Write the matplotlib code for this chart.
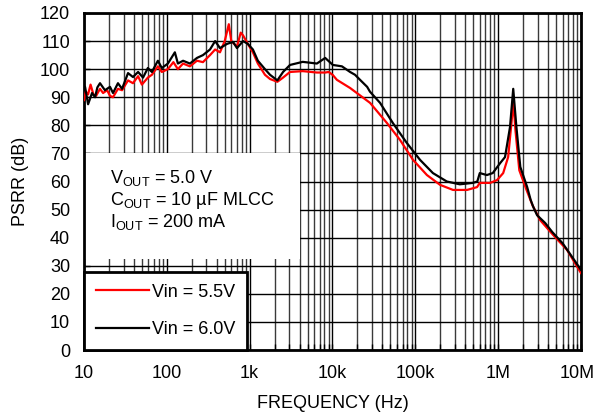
import matplotlib
matplotlib.use('Agg')
import matplotlib.pyplot as plt
from matplotlib.patches import Rectangle
from matplotlib.ticker import FixedLocator, LogLocator, NullFormatter
from matplotlib.transforms import ScaledTranslation

# PSRR vs frequency

freq_60 = [10, 10.3, 11.2, 12.5, 13.6, 14.5, 15.6, 17.9, 20.6, 22.4, 25.7, 28.8,
           34, 39, 45, 51.6, 59, 66, 78, 87, 103, 125, 136, 157, 190, 231, 273,
           332, 383, 438, 533, 630, 703, 833, 950, 1094, 1256, 1530, 1760, 2160,
           2530, 3070, 4370, 6480, 8160, 10100, 13000, 16300, 18700, 21500,
           26200, 28300, 37500, 53600, 79000, 114000, 163000, 240000, 344000,
           494000, 560000, 600000, 730000, 860000, 1.06e6, 1.21e6, 1.39e6,
           1.52e6, 1.66e6, 1.85e6, 2.24e6, 2.47e6, 2.65e6, 2.95e6, 3.7e6,
           4.5e6, 6.0e6, 8.0e6, 10e6]
psrr_60 = [94, 93.7, 87.5, 91.5, 90, 93.5, 95, 92.5, 93.7, 91.5, 95, 93,
           98.6, 97.2, 99, 97, 100.4, 99, 103, 100.4, 102, 106, 102, 103, 102,
           104, 105, 107, 110, 107.5, 109, 109.7, 107.5, 110, 109, 107, 103,
           100, 98, 96, 99, 101.5, 102.6, 102, 104, 101.5, 101, 99, 98, 96.2,
           93.7, 92, 88, 80.8, 73.7, 67.7, 63, 60, 59, 59.5, 60, 63, 62.3, 63,
           66.6, 68.7, 79.4, 93, 79.4, 65.2, 58, 53.4, 51, 48, 45.2, 42, 38,
           32.7, 28.5]

freq_55 = [10, 10.5, 11.2, 12, 13, 14, 15.6, 17, 19, 20.6, 22.4, 25.7, 28.8,
           34, 39, 45, 50, 59, 66, 78, 87, 103, 120, 136, 157, 190, 231, 273,
           332, 383, 438, 500, 560, 600, 650, 703, 780, 833, 950, 1094, 1256,
           1530, 1760, 2160, 2530, 3070, 4370, 6480, 8160, 9000, 10100, 11300,
           16300, 28400, 45500, 65300, 93800, 138000, 199000, 285000, 421000,
           556000, 600000, 798000, 969000, 1.15e6, 1.32e6, 1.47e6, 1.52e6,
           1.62e6, 1.8e6, 2.2e6, 2.6e6, 3.2e6, 4.6e6, 6.8e6, 10e6]
psrr_55 = [89, 92, 91, 94.5, 91, 90.5, 93, 91.5, 92.5, 90.5, 90, 93, 92.5,
           96, 95, 97.5, 94.5, 97, 98, 101, 99, 100, 102.5, 100, 102, 101, 103,
           102.5, 105, 107, 106, 110, 116, 110, 109, 108, 113, 112, 109, 106,
           102, 98, 96.5, 95.5, 97, 99, 99.3, 98.8, 98.8, 99, 97.9, 96.2, 93.3,
           88, 80.8, 74.8, 67.7, 62.3, 58.8, 57, 57, 58, 59.5, 59.5, 60.5, 63,
           68.7, 83, 89, 78, 64, 57, 51.5, 46.3, 41, 35.6, 27.4]

xtick_vals = [10, 100, 1e3, 1e4, 1e5, 1e6, 1e7]
xtick_labels = ['10', '100', '1k', '10k', '100k', '1M', '10M']
ytick_vals = list(range(0, 121, 10))

plt.rcParams['font.family'] = ['Liberation Sans', 'DejaVu Sans']
plt.rcParams['mathtext.fontset'] = 'custom'
plt.rcParams['mathtext.rm'] = 'Liberation Sans'
plt.rcParams['font.size'] = 13

fig = plt.figure(figsize=(5.97, 4.15), dpi=100)
ax = fig.add_axes([0.1407, 0.1566, 0.8325, 0.8121])

ax.set_xscale('log')
ax.set_xlim(10, 1e7)
ax.set_ylim(0, 120)

ax.plot(freq_55, psrr_55, color='#ff0000', lw=1.6, label='Vin = 5.5V', zorder=3)
ax.plot(freq_60, psrr_60, color='black', lw=1.6, label='Vin = 6.0V', zorder=4)

ax.xaxis.set_major_locator(FixedLocator(xtick_vals))
ax.set_xticklabels(xtick_labels)
ax.xaxis.set_minor_locator(LogLocator(base=10, subs=range(2, 10), numticks=20))
ax.xaxis.set_minor_formatter(NullFormatter())
ax.set_yticks(ytick_vals)

ax.grid(which='major', color='black', lw=1.0)
ax.grid(which='minor', axis='x', color='#3a3a3a', lw=1.0)
ax.set_axisbelow(True)
ax.tick_params(which='both', direction='in', length=4, width=1)
ax.tick_params(axis='x', pad=11)
ax.tick_params(axis='y', pad=10)
for s in ax.spines.values():
    s.set_linewidth(2.0)

# keep the last tick label inside the figure
last = ax.get_xticklabels()[-1]
last.set_transform(last.get_transform() + ScaledTranslation(-3 / 72, 0, fig.dpi_scale_trans))

# white panel behind the conditions text
ax.add_patch(Rectangle((10, 32.5), 4090, 37.5, facecolor='white',
                       edgecolor='none', zorder=2))
ax.text(20.6, 61.2, r'V$_{\mathrm{OUT}}$ = 5.0 V', va='center', zorder=5)
ax.text(20.6, 53.4, r'C$_{\mathrm{OUT}}$ = 10 µF MLCC', va='center', zorder=5)
ax.text(20.6, 45.6, r'I$_{\mathrm{OUT}}$ = 200 mA', va='center', zorder=5)

leg = ax.legend(loc='lower left', bbox_to_anchor=(0, 0), borderaxespad=0,
                fancybox=False, framealpha=1, edgecolor='black',
                handlelength=2.95, handletextpad=0.15, labelspacing=1.15,
                borderpad=0.65)
leg.get_frame().set_linewidth(2.0)
leg.set_zorder(6)

ax.set_xlabel('FREQUENCY (Hz)', labelpad=9)
ax.set_ylabel('PSRR (dB)', labelpad=8)

fig.savefig('out.png', dpi=100)
